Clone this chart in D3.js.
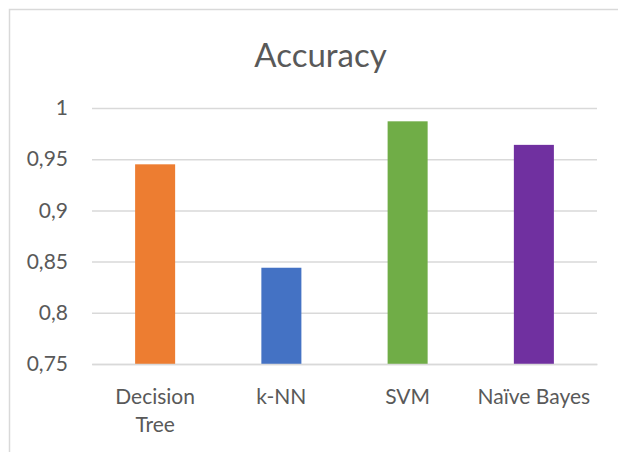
<!DOCTYPE html>
<html>
<head>
  <meta charset="utf-8">
  <title>Accuracy</title>
  <style>
    body { margin: 0; background: #fff; }
    text { font-family: Lato, "Open Sans", sans-serif; fill: #595959; }
  </style>
</head>
<body>
<script src="https://cdnjs.cloudflare.com/ajax/libs/d3/7.8.5/d3.min.js"></script>
<div id="vis"></div>
<script>

var categories = ["Decision Tree", "k-NN", "SVM", "Naïve Bayes"];
var accuracy = [0.945, 0.844, 0.987, 0.964];
var colors = ["#ED7D31", "#4472C4", "#70AD47", "#7030A0"];
var yTicks = [0.75, 0.8, 0.85, 0.9, 0.95, 1];

var w = 618, h = 452;
var pLeft = 92, pRight = 597, pTop = 108, pBottom = 364;

var svg = d3.select("div#vis").append("svg")
  .attr("width", w)
  .attr("height", h);

// chart frame (right and bottom edge run off the picture)
svg.append("rect")
  .attr("x", 9.5).attr("y", 9.5)
  .attr("width", 700).attr("height", 500)
  .attr("fill", "none")
  .attr("stroke", "#d9d9d9")
  .attr("stroke-width", 1.5);

var x = d3.scaleBand()
  .domain(categories)
  .range([pLeft, pRight])
  .paddingInner(0.683)
  .paddingOuter(0.3415);

var y = d3.scaleLinear()
  .domain([0.75, 1])
  .range([pBottom, pTop]);

var fmt = function(d) { return String(d).replace(".", ","); };

// gridlines + tick labels
var yAxis = svg.append("g")
  .attr("transform", "translate(" + pLeft + ",0)")
  .call(d3.axisLeft(y).tickValues(yTicks).tickSize(-(pRight - pLeft)).tickPadding(24).tickFormat(fmt));
yAxis.select(".domain").remove();
yAxis.selectAll(".tick line").attr("stroke", "#d9d9d9").attr("stroke-width", 1.5);
yAxis.selectAll(".tick text")
  .style("font-size", "21px")
  .style("font-family", "Lato, 'Open Sans', sans-serif")
  .attr("fill", "#595959");

svg.append("text")
  .attr("x", (pLeft + pRight) / 2 - 24)
  .attr("y", 67)
  .attr("text-anchor", "middle")
  .style("font-size", "33px")
  .text("Accuracy");

svg.selectAll("rect.bar").data(accuracy).enter().append("rect")
  .attr("class", "bar")
  .attr("x", function(d, i) { return x(categories[i]); })
  .attr("y", function(d) { return y(d); })
  .attr("width", x.bandwidth())
  .attr("height", function(d) { return y(0.75) - y(d); })
  .attr("fill", function(d, i) { return colors[i]; });

// category axis
var xAxis = svg.append("g")
  .attr("transform", "translate(0," + pBottom + ")")
  .call(d3.axisBottom(x).tickSize(0).tickPadding(0));
xAxis.select(".domain").attr("stroke", "#d9d9d9").attr("stroke-width", 1.5);
xAxis.selectAll(".tick text").remove();

var step = x.step();
categories.forEach(function(c) {
  var cx = x(c) + x.bandwidth() / 2;
  var t = svg.append("text")
    .attr("x", cx)
    .attr("y", 404)
    .attr("text-anchor", "middle")
    .style("font-size", "21px")
    .text(c);
  if (t.node().getComputedTextLength() > step * 0.95) {
    var words = c.split(" ");
    t.text(null);
    words.forEach(function(wd, k) {
      t.append("tspan")
        .attr("x", cx)
        .attr("y", 404 + k * 28)
        .text(wd);
    });
  }
});

</script>
</body>
</html>
